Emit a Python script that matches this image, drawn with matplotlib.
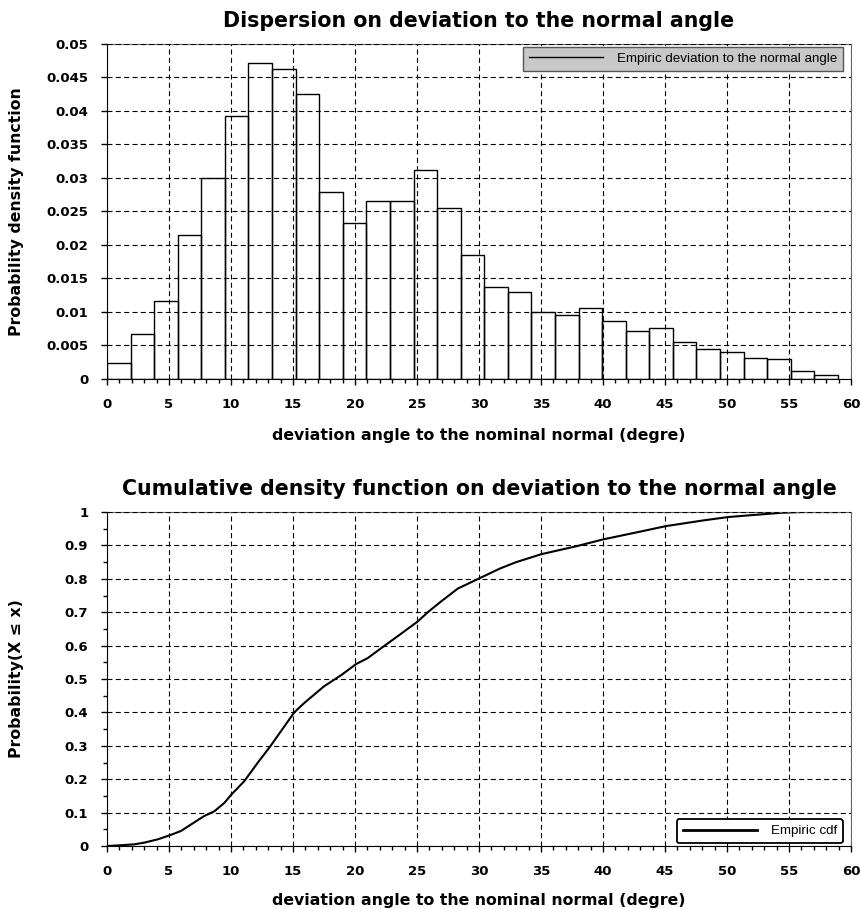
import numpy as np
import matplotlib
matplotlib.use("Agg")
import matplotlib.pyplot as plt
from matplotlib.lines import Line2D
from matplotlib.ticker import MultipleLocator, FuncFormatter
from matplotlib import font_manager

# histogram of the deviation angle (31 bins from 0 up to max angle)
max_angle = 58.95
n_bins = 31
density = [0.00244, 0.00672, 0.01169, 0.02144, 0.0300, 0.0392, 0.0471, 0.0462,
           0.0425, 0.0279, 0.0233, 0.0266, 0.0266, 0.0312, 0.0255, 0.01846,
           0.01373, 0.01294, 0.0100, 0.0096, 0.0106, 0.00866, 0.00716, 0.00761,
           0.00552, 0.00448, 0.00408, 0.00313, 0.00294, 0.00114, 0.0006]

# empiric cdf
cdf_x = [0, 1, 2.2, 3, 4.1, 5.05, 5.97, 6.8, 7.85, 8.66, 9.46, 10.03, 11.07,
         12.15, 13.2, 14.3, 15.1, 15.9, 17.5, 18.9, 20.1, 21.0, 22.1, 23.4,
         25.05, 25.9, 26.9, 28.3, 30.0, 31.7, 33.0, 35.05, 37.9, 40.0, 42.7,
         45.1, 48.1, 50.1, 52.4, 54.5, 56, 58.9]
cdf_y = [0, 0.002, 0.005, 0.01, 0.02, 0.032, 0.045, 0.065, 0.09, 0.104, 0.129,
         0.154, 0.194, 0.249, 0.3, 0.358, 0.4, 0.428, 0.478, 0.512, 0.545,
         0.562, 0.592, 0.627, 0.672, 0.701, 0.731, 0.771, 0.801, 0.831, 0.85,
         0.874, 0.898, 0.918, 0.939, 0.958, 0.975, 0.985, 0.992, 0.998, 1.0, 1.0]

xlabel = 'deviation angle to the nominal normal (degre)'

# narrow font for the legends, if there is one
names = {f.name for f in font_manager.fontManager.ttflist}
if 'Liberation Sans Narrow' in names:
    leg_font = {'family': 'Liberation Sans Narrow', 'size': 10, 'weight': 'normal'}
else:
    leg_font = {'family': 'Liberation Sans', 'size': 9.6, 'weight': 'normal'}

plt.rcParams['font.family'] = 'DejaVu Sans'
plt.rcParams['font.weight'] = 'bold'

fig = plt.figure(figsize=(8.6, 9.09), dpi=100)
ax1 = fig.add_axes([0.1244, 0.5831, 0.8651, 0.3685])
ax2 = fig.add_axes([0.1244, 0.0693, 0.8651, 0.3674])

grid_kw = dict(color='black', linewidth=0.8, linestyle=(0, (4.5, 3)))


def style(ax, ymajor, yminor):
    ax.set_xlim(0, 60)
    ax.xaxis.set_major_locator(MultipleLocator(5))
    ax.xaxis.set_minor_locator(MultipleLocator(1))
    ax.yaxis.set_major_locator(MultipleLocator(ymajor))
    if yminor:
        ax.yaxis.set_minor_locator(MultipleLocator(yminor))
    ax.yaxis.set_major_formatter(FuncFormatter(lambda v, p: '%g' % round(v, 4)))
    ax.grid(True, which='major', **grid_kw)
    ax.set_axisbelow(False)
    ax.tick_params(which='major', direction='out', length=4, width=1,
                   labelsize=9.5, pad=9.5)
    ax.tick_params(which='minor', direction='out', length=2.6, width=1)
    for s in ['left', 'bottom']:
        ax.spines[s].set_color('black')
    for s in ['top', 'right']:
        ax.spines[s].set_color('#666666')
    for lab in ax.get_xticklabels() + ax.get_yticklabels():
        lab.set_fontweight('bold')


# top: histogram
edges = np.linspace(0, max_angle, n_bins + 1)
ax1.bar(edges[:-1], density, width=edges[1] - edges[0], align='edge',
        fill=False, edgecolor='black', linewidth=1)
ax1.set_ylim(0, 0.05)
style(ax1, 0.005, None)
ax1.set_title('Dispersion on deviation to the normal angle', fontsize=14.8,
              fontweight='bold', pad=12)
ax1.set_ylabel('Probability density function', fontsize=11.3, fontweight='bold')
ax1.set_xlabel(xlabel, fontsize=11.3, fontweight='bold')
ax1.yaxis.set_label_coords(-0.112, 0.5)
ax1.xaxis.set_label_coords(0.5, -0.145)
h1 = Line2D([], [], color='black', linewidth=1)
leg1 = ax1.legend([h1], ['Empiric deviation to the normal angle'], loc='upper right',
                  bbox_to_anchor=(0.989, 0.992), borderaxespad=0, prop=leg_font,
                  handlelength=5.6, handletextpad=1.0, borderpad=0.45,
                  fancybox=False, framealpha=1)
leg1.get_frame().set_facecolor('#c8c8c8')
leg1.get_frame().set_edgecolor('#555555')
leg1.get_frame().set_linewidth(1)

# bottom: cdf
ax2.plot(cdf_x, cdf_y, color='black', linewidth=1.5)
ax2.set_ylim(0, 1)
style(ax2, 0.1, 0.05)
ax2.set_title('Cumulative density function on deviation to the normal angle',
              fontsize=14.8, fontweight='bold', pad=12)
ax2.set_ylabel('Probability(X \u2264 x)', fontsize=11.3, fontweight='bold')
ax2.set_xlabel(xlabel, fontsize=11.3, fontweight='bold')
ax2.yaxis.set_label_coords(-0.112, 0.5)
ax2.xaxis.set_label_coords(0.5, -0.14)
h2 = Line2D([], [], color='black', linewidth=2)
leg2 = ax2.legend([h2], ['Empiric cdf'], loc='lower right',
                  bbox_to_anchor=(0.989, 0.008), borderaxespad=0, prop=leg_font,
                  handlelength=5.6, handletextpad=1.0, borderpad=0.45,
                  fancybox=True, framealpha=1)
leg2.get_frame().set_boxstyle('round', pad=0, rounding_size=0.2)
leg2.get_frame().set_facecolor('white')
leg2.get_frame().set_edgecolor('black')
leg2.get_frame().set_linewidth(1.3)

fig.savefig('out.png', dpi=100)
